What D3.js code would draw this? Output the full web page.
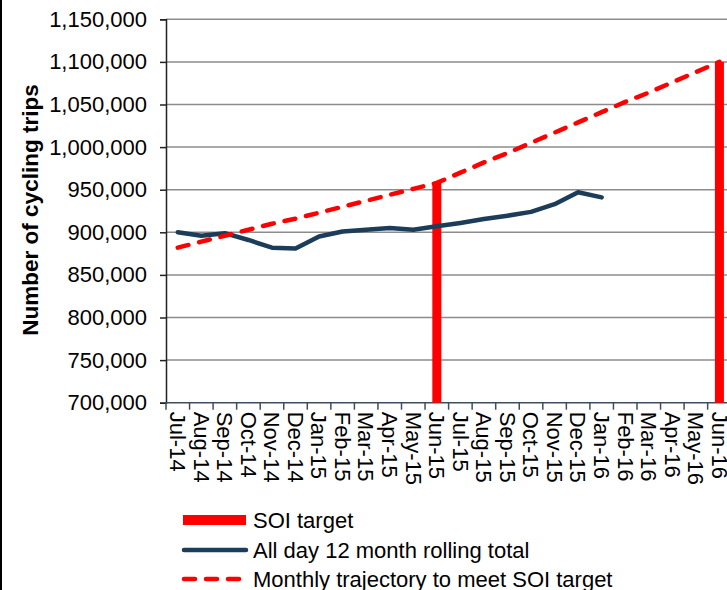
<!DOCTYPE html>
<meta charset="utf-8">
<html lang="en">
  <head>
    <style>
      body { margin: 0; background-color: #fff; }
      svg { display: block; font-family: "Liberation Sans", Arial, sans-serif; }
      .grid line { stroke: #8c8c8c; stroke-width: 1.5px; }
      .ylab { font-size: 22px; fill: #000; }
      .xlab { font-size: 22px; fill: #000; }
      .legend text { font-size: 22px; fill: #000; }
    </style>
  </head>

  <body>

    <script src="https://cdnjs.cloudflare.com/ajax/libs/d3/7.8.5/d3.min.js"></script>

    <svg></svg>

    <script>

      var months = ["Jul-14", "Aug-14", "Sep-14", "Oct-14", "Nov-14", "Dec-14",
        "Jan-15", "Feb-15", "Mar-15", "Apr-15", "May-15", "Jun-15",
        "Jul-15", "Aug-15", "Sep-15", "Oct-15", "Nov-15", "Dec-15",
        "Jan-16", "Feb-16", "Mar-16", "Apr-16", "May-16", "Jun-16"];

      // all day 12 month rolling total (Jul-14 .. Jan-16)
      var rolling = [900000, 896000, 899000, 891000, 882000, 881000,
        895000, 901000, 903000, 905000, 903000, 907000,
        911000, 915500, 919500, 924000, 933000, 947000, 941000];

      // monthly trajectory to meet SOI target
      var trajectory = [882000, 889000, 896000, 903000, 910000, 916000,
        923000, 930000, 937000, 944000, 951000, 958000,
        970000, 982000, 993000, 1005000, 1017000, 1029000,
        1041000, 1053000, 1064000, 1076000, 1088000, 1100000];

      // SOI targets
      var targetMonths = ["Jun-15", "Jun-16"];
      var targetValues = [958000, 1100000];

      var yTicks = [700000, 750000, 800000, 850000, 900000, 950000,
        1000000, 1050000, 1100000, 1150000];

      var legendLabels = ["SOI target", "All day 12 month rolling total",
        "Monthly trajectory to meet SOI target"];

      var width = 727, height = 590;
      var plotLeft = 166, plotRight = 731.2, plotTop = 19.3, plotBottom = 402.7;

      var svg = d3.select("svg")
        .attr("width", width)
        .attr("height", height);

      var xScale = d3.scaleBand()
        .domain(months)
        .range([plotLeft, plotRight]);

      var yScale = d3.scaleLinear()
        .domain([700000, 1150000])
        .range([plotBottom, plotTop]);

      // chart frame, only the left edge is in view
      svg.append("line")
        .attr("x1", 1).attr("x2", 1)
        .attr("y1", 0).attr("y2", height)
        .attr("stroke", "#000")
        .attr("stroke-width", 2);

      // gridlines
      svg.append("g")
        .attr("class", "grid")
        .selectAll("line")
        .data(yTicks.slice(1))
        .enter().append("line")
        .attr("x1", plotLeft).attr("x2", width)
        .attr("y1", function(d) { return yScale(d); })
        .attr("y2", function(d) { return yScale(d); });

      // y axis
      var yAxis = svg.append("g")
        .attr("transform", "translate(" + plotLeft + ",0)")
        .call(d3.axisLeft(yScale).tickValues(yTicks).tickSize(6).tickPadding(13)
          .tickFormat(d3.format(",")));
      yAxis.attr("font-family", null).attr("font-size", null);
      yAxis.select(".domain").attr("stroke", "#222").attr("stroke-width", 1.5);
      yAxis.selectAll(".tick line").attr("stroke", "#222").attr("stroke-width", 1.5);
      yAxis.selectAll(".tick text").attr("class", "ylab");

      // x axis, ticks on the category boundaries
      var xg = svg.append("g");
      xg.append("line")
        .attr("x1", plotLeft).attr("x2", width)
        .attr("y1", plotBottom).attr("y2", plotBottom)
        .attr("stroke", "#3e4e5e").attr("stroke-width", 1.5);
      var bounds = months.map(function(m) { return xScale(m); });
      xg.selectAll(".xtick")
        .data(bounds)
        .enter().append("line")
        .attr("class", "xtick")
        .attr("x1", function(d) { return d; })
        .attr("x2", function(d) { return d; })
        .attr("y1", plotBottom).attr("y2", plotBottom + 7)
        .attr("stroke", "#3e4e5e").attr("stroke-width", 1.5);
      xg.selectAll(".xlab")
        .data(months)
        .enter().append("text")
        .attr("class", "xlab")
        .attr("transform", function(d) {
          return "translate(" + (xScale(d) + xScale.bandwidth() / 2) + "," + (plotBottom + 9) + ") rotate(90)";
        })
        .attr("dy", "0.35em")
        .attr("text-anchor", "start")
        .text(function(d) { return d; });

      // y axis title
      svg.append("text")
        .attr("transform", "translate(38,210) rotate(-90)")
        .attr("text-anchor", "middle")
        .style("font-size", "22.5px")
        .style("font-weight", "bold")
        .text("Number of cycling trips");

      // SOI target bars
      var barW = 9;
      svg.selectAll(".bar")
        .data(targetMonths)
        .enter().append("rect")
        .attr("class", "bar")
        .attr("x", function(d) { return xScale(d) + xScale.bandwidth() / 2 - barW / 2; })
        .attr("width", barW)
        .attr("y", function(d, i) { return yScale(targetValues[i]); })
        .attr("height", function(d, i) { return plotBottom - yScale(targetValues[i]); })
        .attr("fill", "#ff0000");

      var cx = function(i) { return xScale(months[i]) + xScale.bandwidth() / 2; };

      var line = d3.line()
        .x(function(d, i) { return cx(i); })
        .y(function(d) { return yScale(d); });

      svg.append("path")
        .datum(rolling)
        .attr("d", line)
        .attr("fill", "none")
        .attr("stroke", "#1c3d5a")
        .attr("stroke-width", 4.5)
        .attr("stroke-linejoin", "round")
        .attr("stroke-linecap", "round");

      svg.append("path")
        .datum(trajectory)
        .attr("d", line)
        .attr("fill", "none")
        .attr("stroke", "#ff0000")
        .attr("stroke-width", 4.5)
        .attr("stroke-dasharray", "11,11")
        .attr("stroke-linecap", "round");

      // legend
      var lg = svg.append("g").attr("class", "legend");
      var rowY = [520, 550, 579];
      lg.append("rect")
        .attr("x", 183).attr("y", rowY[0] - 5)
        .attr("width", 63).attr("height", 10)
        .attr("fill", "#ff0000");
      lg.append("line")
        .attr("x1", 184).attr("x2", 246)
        .attr("y1", rowY[1]).attr("y2", rowY[1])
        .attr("stroke", "#1c3d5a").attr("stroke-width", 4.5)
        .attr("stroke-linecap", "round");
      lg.append("line")
        .attr("x1", 184).attr("x2", 246)
        .attr("y1", rowY[2]).attr("y2", rowY[2])
        .attr("stroke", "#ff0000").attr("stroke-width", 4.5)
        .attr("stroke-dasharray", "11,11")
        .attr("stroke-linecap", "round");
      lg.selectAll("text")
        .data(legendLabels)
        .enter().append("text")
        .attr("x", 253)
        .attr("y", function(d, i) { return rowY[i]; })
        .attr("dy", "0.35em")
        .text(function(d) { return d; });

    </script>

  </body>
</html>
